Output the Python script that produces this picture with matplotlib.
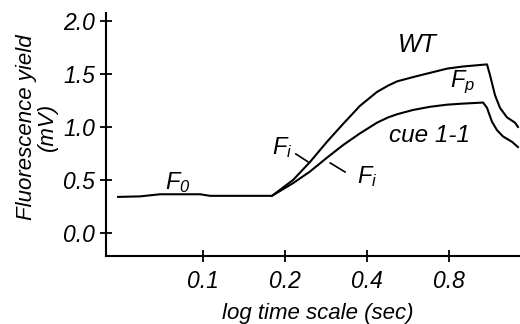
import numpy as np
import matplotlib
matplotlib.use("Agg")
import matplotlib.pyplot as plt

plt.rcParams['font.family'] = ['Liberation Sans', 'DejaVu Sans']
plt.rcParams['font.style'] = 'italic'
plt.rcParams['mathtext.fontset'] = 'custom'
plt.rcParams['mathtext.rm'] = 'Liberation Sans:italic'
plt.rcParams['mathtext.it'] = 'Liberation Sans:italic'

# shared F0 baseline (sec, mV)
base_t = [0.0487, 0.0587, 0.0695, 0.0975, 0.106, 0.179]
base_y = [0.34, 0.345, 0.365, 0.365, 0.35, 0.35]

# WT trace after the onset
wt_t = [0.214, 0.247, 0.285, 0.327, 0.377, 0.435, 0.478, 0.516, 0.590,
        0.681, 0.787, 0.90, 1.103, 1.131, 1.180, 1.231, 1.306, 1.398, 1.433]
wt_y = [0.50, 0.67, 0.86, 1.03, 1.20, 1.33, 1.39, 1.43, 1.47,
        1.51, 1.55, 1.57, 1.59, 1.49, 1.30, 1.18, 1.09, 1.04, 1.00]

# cue 1-1 trace after the onset
cue_t = [0.214, 0.247, 0.285, 0.327, 0.377, 0.435, 0.478, 0.516, 0.590,
         0.681, 0.787, 0.90, 1.067, 1.103, 1.150, 1.200, 1.263, 1.362, 1.433]
cue_y = [0.47, 0.58, 0.71, 0.83, 0.94, 1.04, 1.09, 1.12, 1.16,
         1.19, 1.21, 1.22, 1.23, 1.18, 1.05, 0.97, 0.91, 0.86, 0.81]

xticks = [0.1, 0.2, 0.4, 0.8]
yticks = [0.0, 0.5, 1.0, 1.5, 2.0]

fig = plt.figure(figsize=(5.2, 3.24), dpi=100)
ax = fig.add_axes([0.204, 0.21, 0.796, 0.75])

ax.plot(base_t + wt_t, base_y + wt_y, color='black', lw=1.5)
ax.plot(base_t[-1:] + cue_t, base_y[-1:] + cue_y, color='black', lw=1.5)

ax.set_xscale('log', base=2)
ax.set_xlim(0.044, 1.458)
ax.set_ylim(-0.217, 2.075)
ax.set_xticks(xticks)
ax.set_xticklabels(['0.1', '0.2', '0.4', '0.8'])
ax.minorticks_off()
ax.set_yticks(yticks)
ax.set_yticklabels(['%.1f' % v for v in yticks])

for s in ['top', 'right']:
    ax.spines[s].set_visible(False)
for s in ['left', 'bottom']:
    ax.spines[s].set_linewidth(1.5)
ax.tick_params(direction='inout', length=8, width=1.3, labelsize=16.5)
ax.tick_params(axis='x', pad=6)
ax.tick_params(axis='y', pad=4)

# annotations
ax.text(0.61, 1.77, 'WT', fontsize=18, ha='center', va='center')
ax.text(0.90, 1.42, '$F_p$', fontsize=17, ha='center', va='center')
ax.text(0.68, 0.92, 'cue 1-1', fontsize=17.5, ha='center', va='center')
ax.text(0.195, 0.81, '$F_i$', fontsize=17, ha='center', va='center')
ax.plot([0.219, 0.243], [0.745, 0.67], color='black', lw=1.2)
ax.text(0.40, 0.53, '$F_i$', fontsize=17, ha='center', va='center')
ax.plot([0.293, 0.332], [0.66, 0.575], color='black', lw=1.2)
ax.text(0.081, 0.48, '$F_0$', fontsize=17, ha='center', va='center')

fig.text(37 / 520, 1 - 127 / 324, 'Fluorescence yield\n(mV)', rotation=90,
         ha='center', va='center', fontsize=16, linespacing=1.0,
         multialignment='center')
fig.text(318 / 520, 1 - 313 / 324, 'log time scale (sec)', ha='center',
         va='center', fontsize=16)

fig.savefig('out.png', dpi=100)
